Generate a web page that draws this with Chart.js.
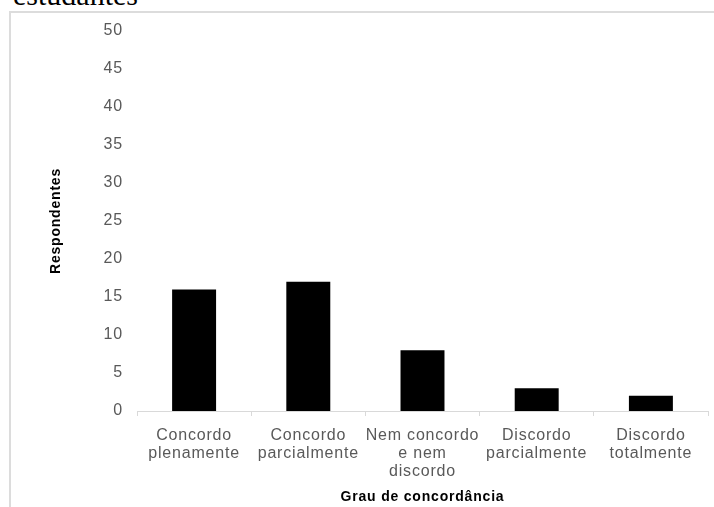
<!DOCTYPE html>
<html>
<head>
<meta charset="utf-8">
<script src="https://cdn.jsdelivr.net/npm/chart.js@4.4.1/dist/chart.umd.min.js"></script>
<style>
    html, body { margin: 0; padding: 0; background: #fff; }
    #wrap { position: relative; width: 714px; height: 507px; overflow: hidden; }
    #caption {
        position: absolute; left: 13px; top: -20px;
        font-family: "Liberation Serif", "DejaVu Serif", serif;
        font-size: 30px; line-height: 30px; color: #000;
    }
    #frame {
        position: absolute; left: 9px; top: 11px; right: -10px; bottom: -10px;
        border-left: 2px solid #dcdcdc; border-top: 2px solid #dcdcdc;
    }
    #chart { position: absolute; left: 0; top: 0; }
</style>
</head>
<body>
<div id="wrap">
    <div id="caption">estudantes</div>
    <div id="frame"></div>
    <canvas id="chart" width="714" height="507"></canvas>
</div>
<script>
// Grau de concordância vs número de respondentes
const categories = [
    ['Concordo', 'plenamente'],
    ['Concordo', 'parcialmente'],
    ['Nem concordo', 'e nem', 'discordo'],
    ['Discordo', 'parcialmente'],
    ['Discordo', 'totalmente']
];
const respondentes = [16, 17, 8, 3, 2];

const yMin = 0;
const yMax = 50;
const yStep = 5;

const labelFont = { family: '"Liberation Sans", Arial, sans-serif', size: 16, lineHeight: 1.125 };
const titleFont = { family: '"Liberation Sans", Arial, sans-serif', size: 14, weight: 'bold' };

// the original text is set slightly spaced out, like office charts do
const spacing = {
    id: 'spacing',
    beforeUpdate: chart => { chart.ctx.letterSpacing = '0.8px'; },
    beforeDraw: chart => { chart.ctx.letterSpacing = '0.8px'; }
};

new Chart(document.getElementById('chart'), {
    type: 'bar',
    data: {
        labels: categories,
        datasets: [{
            data: respondentes,
            backgroundColor: '#000',
            borderWidth: 0,
            categoryPercentage: 1,
            barPercentage: 0.385
        }]
    },
    options: {
        responsive: false,
        animation: false,
        layout: { padding: { top: 31, right: 6, bottom: 0, left: 0 } },
        plugins: { legend: { display: false }, tooltip: { enabled: false } },
        scales: {
            x: {
                grid: {
                    offset: true,
                    drawOnChartArea: false,
                    drawTicks: true,
                    tickLength: 5,
                    color: '#d9d9d9'
                },
                border: { color: '#d9d9d9', width: 1 },
                ticks: {
                    color: '#595959',
                    font: labelFont,
                    padding: 11,
                    maxRotation: 0,
                    autoSkip: false
                },
                title: {
                    display: true,
                    text: 'Grau de concordância',
                    color: '#000',
                    font: titleFont,
                    padding: { top: 0, bottom: 1 }
                },
                afterFit: s => { s.height = 96; }
            },
            y: {
                min: yMin,
                max: yMax,
                grid: { display: false, drawTicks: false },
                border: { display: false },
                ticks: {
                    stepSize: yStep,
                    color: '#595959',
                    font: labelFont,
                    padding: 14
                },
                title: {
                    display: true,
                    text: 'Respondentes',
                    color: '#000',
                    font: titleFont,
                    padding: { top: 48, bottom: 0 }
                },
                afterFit: s => { s.width = 137; }
            }
        }
    },
    plugins: [spacing]
});
</script>
</body>
</html>
